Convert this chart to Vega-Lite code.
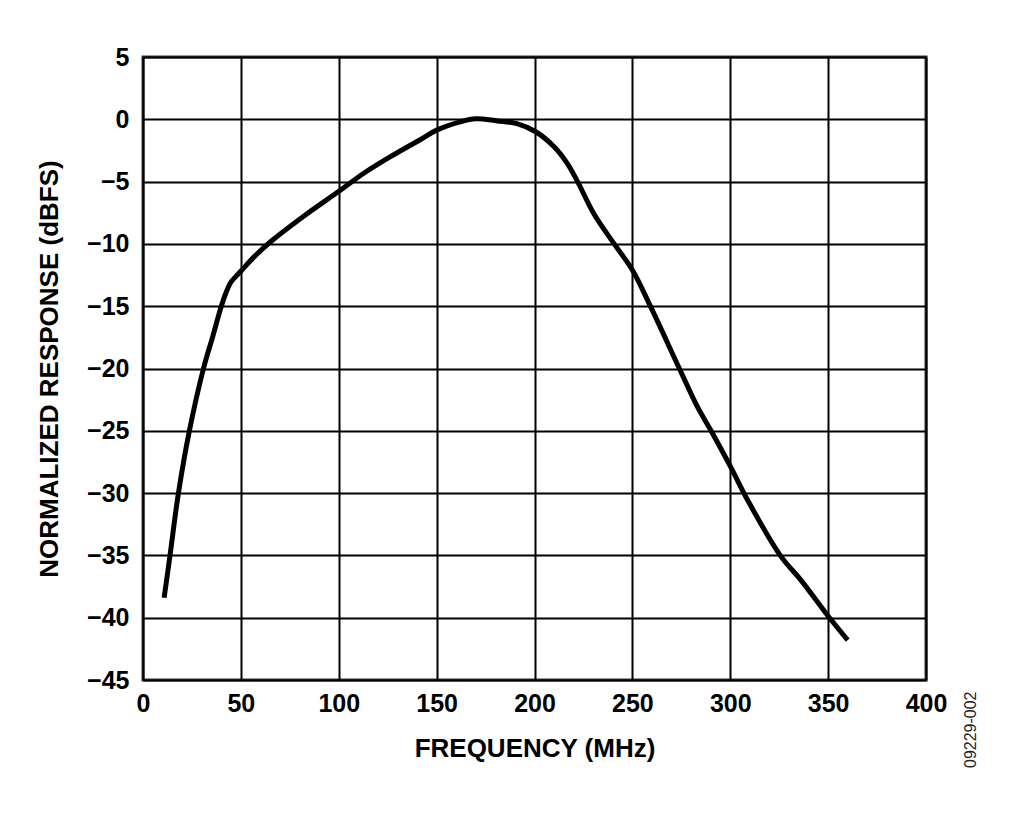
{
  "$schema": "https://vega.github.io/schema/vega-lite/v6.json",
  "width": 783,
  "height": 623,
  "autosize": {"type": "none"},
  "padding": {"left": 143, "top": 57, "right": 98, "bottom": 135},
  "background": "white",
  "title": {
    "text": "09229-002",
    "orient": "right",
    "anchor": "end",
    "frame": "group",
    "angle": 270,
    "align": "left",
    "dx": -88,
    "fontSize": 16,
    "fontWeight": "normal",
    "font": "Liberation Sans",
    "color": "#222",
    "offset": 0
  },
  "config": {
    "view": {"stroke": "#333", "strokeWidth": 3},
    "font": "Liberation Sans",
    "axis": {
      "grid": true,
      "gridColor": "#000",
      "gridWidth": 2,
      "gridOpacity": 1,
      "domain": false,
      "ticks": false,
      "labelFlush": false,
      "labelFont": "Liberation Sans",
      "labelFontSize": 25,
      "labelFontWeight": "bold",
      "labelColor": "#000",
      "titleFont": "Liberation Sans",
      "titleFontSize": 26,
      "titleFontWeight": "bold",
      "titleColor": "#000"
    }
  },
  "data": {
    "values": [
      {"freq": 10.8, "resp": -38.4},
      {"freq": 13.8, "resp": -35.0},
      {"freq": 18.1, "resp": -30.0},
      {"freq": 23.7, "resp": -25.0},
      {"freq": 30.9, "resp": -20.0},
      {"freq": 35.5, "resp": -17.5},
      {"freq": 40, "resp": -15.0},
      {"freq": 42.2, "resp": -14.0},
      {"freq": 44.8, "resp": -13.1},
      {"freq": 47.5, "resp": -12.6},
      {"freq": 50.5, "resp": -12.1},
      {"freq": 57, "resp": -11.0},
      {"freq": 65, "resp": -9.85},
      {"freq": 81.9, "resp": -7.8},
      {"freq": 100.8, "resp": -5.7},
      {"freq": 112.6, "resp": -4.35},
      {"freq": 126.4, "resp": -3.0},
      {"freq": 142, "resp": -1.6},
      {"freq": 150.3, "resp": -0.85},
      {"freq": 162, "resp": -0.2},
      {"freq": 170, "resp": 0.05},
      {"freq": 181, "resp": -0.13},
      {"freq": 191, "resp": -0.35},
      {"freq": 200.6, "resp": -1.0},
      {"freq": 210, "resp": -2.2},
      {"freq": 216.8, "resp": -3.55},
      {"freq": 222, "resp": -5.0},
      {"freq": 230.4, "resp": -7.6},
      {"freq": 240.7, "resp": -10.0},
      {"freq": 250, "resp": -12.1},
      {"freq": 259.5, "resp": -15.1},
      {"freq": 274, "resp": -20.0},
      {"freq": 283, "resp": -23.0},
      {"freq": 290.2, "resp": -25.0},
      {"freq": 300.2, "resp": -27.9},
      {"freq": 309, "resp": -30.6},
      {"freq": 326, "resp": -35.1},
      {"freq": 336.2, "resp": -37.0},
      {"freq": 350.2, "resp": -39.9},
      {"freq": 360, "resp": -41.8}
    ]
  },
  "mark": {"type": "line", "color": "#000", "strokeWidth": 5, "interpolate": "catmull-rom", "strokeCap": "butt"},
  "encoding": {
    "x": {
      "field": "freq",
      "type": "quantitative",
      "scale": {"domain": [0, 400], "nice": false},
      "axis": {
        "title": "FREQUENCY (MHz)",
        "values": [0, 50, 100, 150, 200, 250, 300, 350, 400],
        "labelPadding": 11,
        "titlePadding": 19
      }
    },
    "y": {
      "field": "resp",
      "type": "quantitative",
      "scale": {"domain": [-45, 5], "nice": false},
      "axis": {
        "title": "NORMALIZED RESPONSE (dBFS)",
        "values": [-45, -40, -35, -30, -25, -20, -15, -10, -5, 0, 5],
        "labelPadding": 14,
        "titlePadding": 24
      }
    }
  }
}
